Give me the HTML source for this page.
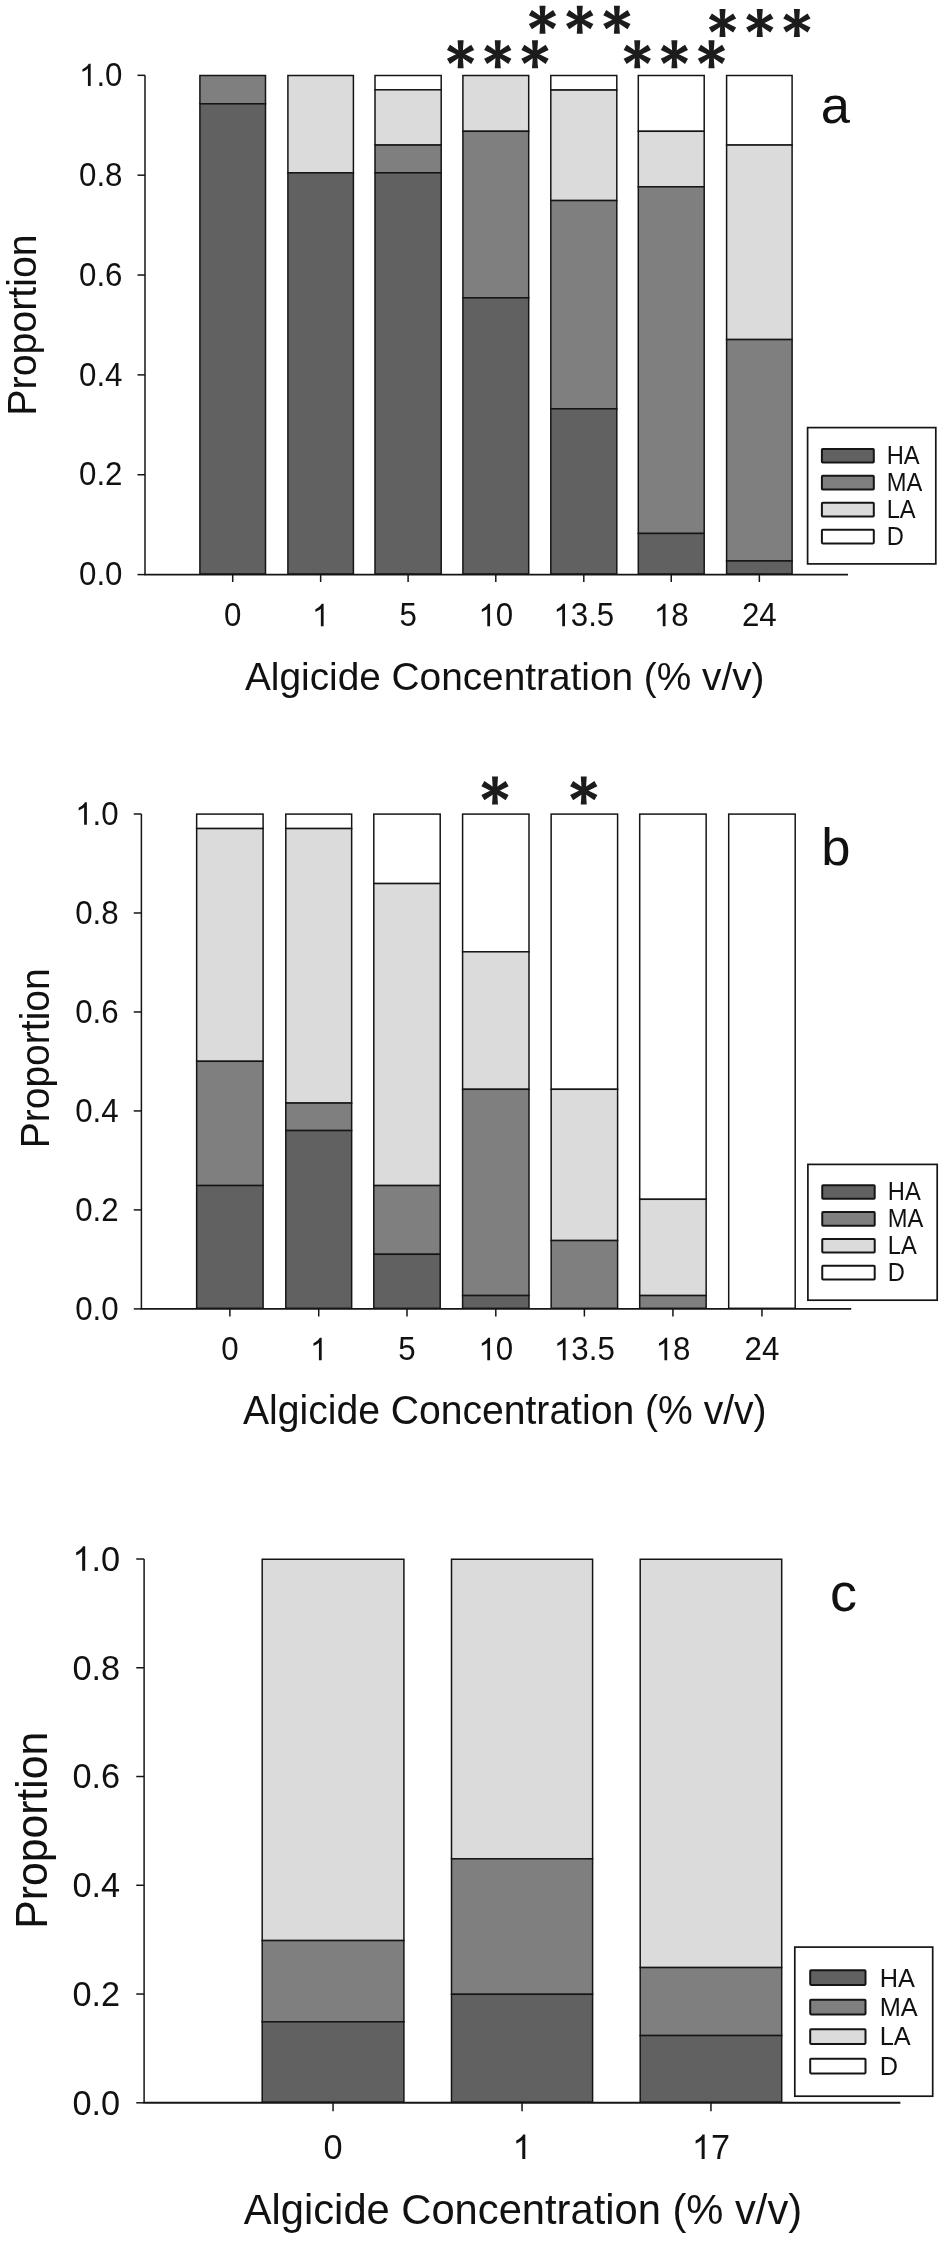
<!DOCTYPE html>
<html><head><meta charset="utf-8"><style>
html,body{margin:0;padding:0;background:#fff;}
svg{display:block;filter:grayscale(1);}
text{font-family:"Liberation Sans",sans-serif;font-kerning:none;}
</style></head><body>
<svg width="944" height="2244" viewBox="0 0 944 2244">
<defs><g id="ast" fill="#1c1c1c"><polygon points="-2.05,0 -3.0,-14.0 3.0,-14.0 2.05,0" transform="rotate(0)"/><polygon points="-2.05,0 -3.0,-14.0 3.0,-14.0 2.05,0" transform="rotate(60)"/><polygon points="-2.05,0 -3.0,-14.0 3.0,-14.0 2.05,0" transform="rotate(120)"/><polygon points="-2.05,0 -3.0,-14.0 3.0,-14.0 2.05,0" transform="rotate(180)"/><polygon points="-2.05,0 -3.0,-14.0 3.0,-14.0 2.05,0" transform="rotate(240)"/><polygon points="-2.05,0 -3.0,-14.0 3.0,-14.0 2.05,0" transform="rotate(300)"/><circle r="3.2"/></g></defs>
<rect width="944" height="2244" fill="#fff"/>
<g fill="#111">
<rect x="199.90" y="75.50" width="65.60" height="28.30" fill="#7f7f7f" stroke="#151515" stroke-width="1.5" />
<rect x="199.90" y="103.80" width="65.60" height="470.20" fill="#616161" stroke="#151515" stroke-width="1.5" />
<rect x="287.90" y="75.50" width="65.50" height="97.30" fill="#dbdbdb" stroke="#151515" stroke-width="1.5" />
<rect x="287.90" y="172.80" width="65.50" height="401.20" fill="#616161" stroke="#151515" stroke-width="1.5" />
<rect x="375.00" y="75.50" width="66.20" height="14.30" fill="#ffffff" stroke="#151515" stroke-width="1.5" />
<rect x="375.00" y="89.80" width="66.20" height="55.25" fill="#dbdbdb" stroke="#151515" stroke-width="1.5" />
<rect x="375.00" y="145.05" width="66.20" height="27.75" fill="#7f7f7f" stroke="#151515" stroke-width="1.5" />
<rect x="375.00" y="172.80" width="66.20" height="401.20" fill="#616161" stroke="#151515" stroke-width="1.5" />
<rect x="462.90" y="75.50" width="65.80" height="55.80" fill="#dbdbdb" stroke="#151515" stroke-width="1.5" />
<rect x="462.90" y="131.30" width="65.80" height="166.50" fill="#7f7f7f" stroke="#151515" stroke-width="1.5" />
<rect x="462.90" y="297.80" width="65.80" height="276.20" fill="#616161" stroke="#151515" stroke-width="1.5" />
<rect x="550.80" y="75.50" width="66.00" height="14.55" fill="#ffffff" stroke="#151515" stroke-width="1.5" />
<rect x="550.80" y="90.05" width="66.00" height="110.50" fill="#dbdbdb" stroke="#151515" stroke-width="1.5" />
<rect x="550.80" y="200.55" width="66.00" height="208.25" fill="#7f7f7f" stroke="#151515" stroke-width="1.5" />
<rect x="550.80" y="408.80" width="66.00" height="165.20" fill="#616161" stroke="#151515" stroke-width="1.5" />
<rect x="638.30" y="75.50" width="65.90" height="55.80" fill="#ffffff" stroke="#151515" stroke-width="1.5" />
<rect x="638.30" y="131.30" width="65.90" height="55.50" fill="#dbdbdb" stroke="#151515" stroke-width="1.5" />
<rect x="638.30" y="186.80" width="65.90" height="346.65" fill="#7f7f7f" stroke="#151515" stroke-width="1.5" />
<rect x="638.30" y="533.45" width="65.90" height="40.55" fill="#616161" stroke="#151515" stroke-width="1.5" />
<rect x="726.60" y="75.50" width="65.50" height="69.55" fill="#ffffff" stroke="#151515" stroke-width="1.5" />
<rect x="726.60" y="145.05" width="65.50" height="194.50" fill="#dbdbdb" stroke="#151515" stroke-width="1.5" />
<rect x="726.60" y="339.55" width="65.50" height="221.40" fill="#7f7f7f" stroke="#151515" stroke-width="1.5" />
<rect x="726.60" y="560.95" width="65.50" height="13.05" fill="#616161" stroke="#151515" stroke-width="1.5" />
<line x1="145.00" y1="75.33" x2="145.00" y2="574.60" stroke="#151515" stroke-width="1.5"/>
<line x1="144.25" y1="574.60" x2="848.00" y2="574.60" stroke="#151515" stroke-width="1.9"/>
<line x1="137.50" y1="574.60" x2="145.00" y2="574.60" stroke="#151515" stroke-width="1.5"/>
<g transform="translate(79.01,585.34) scale(1.0,1.035)"><text x="0.00" y="0" font-size="31.3">0.0</text></g>
<line x1="137.50" y1="474.75" x2="145.00" y2="474.75" stroke="#151515" stroke-width="1.5"/>
<g transform="translate(79.01,485.49) scale(1.0,1.035)"><text x="0.00" y="0" font-size="31.3">0.2</text></g>
<line x1="137.50" y1="374.89" x2="145.00" y2="374.89" stroke="#151515" stroke-width="1.5"/>
<g transform="translate(79.01,385.64) scale(1.0,1.035)"><text x="0.00" y="0" font-size="31.3">0.4</text></g>
<line x1="137.50" y1="275.04" x2="145.00" y2="275.04" stroke="#151515" stroke-width="1.5"/>
<g transform="translate(79.01,285.78) scale(1.0,1.035)"><text x="0.00" y="0" font-size="31.3">0.6</text></g>
<line x1="137.50" y1="175.18" x2="145.00" y2="175.18" stroke="#151515" stroke-width="1.5"/>
<g transform="translate(79.01,185.93) scale(1.0,1.035)"><text x="0.00" y="0" font-size="31.3">0.8</text></g>
<line x1="137.50" y1="75.33" x2="145.00" y2="75.33" stroke="#151515" stroke-width="1.5"/>
<g transform="translate(79.01,86.07) scale(1.0,1.035)"><path d="M763,0L583,0L583,1147Q518,1085 412.5,1023Q307,961 225,930L225,1104Q373,1174 478.5,1268Q584,1362 640,1466L763,1466Z" transform="translate(0.00,0) scale(0.01528,-0.01477)"/><text x="17.41" y="0" font-size="31.3">.0</text></g>
<line x1="232.70" y1="574.60" x2="232.70" y2="582.00" stroke="#151515" stroke-width="1.5"/>
<g transform="translate(224.00,626.20) scale(1.0,1.035)"><text x="0.00" y="0" font-size="31.3">0</text></g>
<line x1="320.65" y1="574.60" x2="320.65" y2="582.00" stroke="#151515" stroke-width="1.5"/>
<g transform="translate(311.95,626.20) scale(1.0,1.035)"><path d="M763,0L583,0L583,1147Q518,1085 412.5,1023Q307,961 225,930L225,1104Q373,1174 478.5,1268Q584,1362 640,1466L763,1466Z" transform="translate(0.00,0) scale(0.01528,-0.01477)"/></g>
<line x1="408.10" y1="574.60" x2="408.10" y2="582.00" stroke="#151515" stroke-width="1.5"/>
<g transform="translate(399.40,626.20) scale(1.0,1.035)"><text x="0.00" y="0" font-size="31.3">5</text></g>
<line x1="495.80" y1="574.60" x2="495.80" y2="582.00" stroke="#151515" stroke-width="1.5"/>
<g transform="translate(478.39,626.20) scale(1.0,1.035)"><path d="M763,0L583,0L583,1147Q518,1085 412.5,1023Q307,961 225,930L225,1104Q373,1174 478.5,1268Q584,1362 640,1466L763,1466Z" transform="translate(0.00,0) scale(0.01528,-0.01477)"/><text x="17.41" y="0" font-size="31.3">0</text></g>
<line x1="583.80" y1="574.60" x2="583.80" y2="582.00" stroke="#151515" stroke-width="1.5"/>
<g transform="translate(553.34,626.20) scale(1.0,1.035)"><path d="M763,0L583,0L583,1147Q518,1085 412.5,1023Q307,961 225,930L225,1104Q373,1174 478.5,1268Q584,1362 640,1466L763,1466Z" transform="translate(0.00,0) scale(0.01528,-0.01477)"/><text x="17.41" y="0" font-size="31.3">3.5</text></g>
<line x1="671.25" y1="574.60" x2="671.25" y2="582.00" stroke="#151515" stroke-width="1.5"/>
<g transform="translate(653.84,626.20) scale(1.0,1.035)"><path d="M763,0L583,0L583,1147Q518,1085 412.5,1023Q307,961 225,930L225,1104Q373,1174 478.5,1268Q584,1362 640,1466L763,1466Z" transform="translate(0.00,0) scale(0.01528,-0.01477)"/><text x="17.41" y="0" font-size="31.3">8</text></g>
<line x1="759.35" y1="574.60" x2="759.35" y2="582.00" stroke="#151515" stroke-width="1.5"/>
<g transform="translate(741.94,626.20) scale(1.0,1.035)"><text x="0.00" y="0" font-size="31.3">24</text></g>
<g transform="translate(245.00,690.00) scale(1.0,1.02)"><text x="0.00" y="0" font-size="38.8">Algicide Concentration (% v/v)</text></g>
<g transform="translate(36.25,325.00) rotate(-90) scale(1,1.025)"><text x="0" y="0" font-size="39.3" text-anchor="middle">Proportion</text></g>
<rect x="807.60" y="427.60" width="128.20" height="136.30" fill="#fff" stroke="#151515" stroke-width="1.7" />
<rect x="821.90" y="448.90" width="51.90" height="13.60" fill="#616161" stroke="#151515" stroke-width="2.0" rx="0.8"/>
<g transform="translate(886.66,464.10) scale(1.0,1.06)"><text x="0.00" y="0" font-size="23.7">HA</text></g>
<rect x="821.90" y="475.87" width="51.90" height="13.60" fill="#7f7f7f" stroke="#151515" stroke-width="2.0" rx="0.8"/>
<g transform="translate(886.66,491.00) scale(1.0,1.06)"><text x="0.00" y="0" font-size="23.7">MA</text></g>
<rect x="821.90" y="502.84" width="51.90" height="13.60" fill="#dbdbdb" stroke="#151515" stroke-width="2.0" rx="0.8"/>
<g transform="translate(886.66,517.90) scale(1.0,1.06)"><text x="0.00" y="0" font-size="23.7">LA</text></g>
<rect x="821.90" y="529.81" width="51.90" height="13.60" fill="#ffffff" stroke="#151515" stroke-width="2.0" rx="0.8"/>
<g transform="translate(886.66,544.80) scale(1.0,1.06)"><text x="0.00" y="0" font-size="23.7">D</text></g>
<g transform="translate(820.77,123.10) scale(1.0,1.0)"><text x="0.00" y="0" font-size="52.5">a</text></g>
<rect x="196.65" y="814.10" width="66.45" height="14.45" fill="#ffffff" stroke="#151515" stroke-width="1.5" />
<rect x="196.65" y="828.55" width="66.45" height="232.75" fill="#dbdbdb" stroke="#151515" stroke-width="1.5" />
<rect x="196.65" y="1061.30" width="66.45" height="124.25" fill="#7f7f7f" stroke="#151515" stroke-width="1.5" />
<rect x="196.65" y="1185.55" width="66.45" height="122.75" fill="#616161" stroke="#151515" stroke-width="1.5" />
<rect x="285.80" y="814.10" width="65.85" height="14.45" fill="#ffffff" stroke="#151515" stroke-width="1.5" />
<rect x="285.80" y="828.55" width="65.85" height="274.50" fill="#dbdbdb" stroke="#151515" stroke-width="1.5" />
<rect x="285.80" y="1103.05" width="65.85" height="27.50" fill="#7f7f7f" stroke="#151515" stroke-width="1.5" />
<rect x="285.80" y="1130.55" width="65.85" height="177.75" fill="#616161" stroke="#151515" stroke-width="1.5" />
<rect x="373.80" y="814.10" width="66.40" height="69.45" fill="#ffffff" stroke="#151515" stroke-width="1.5" />
<rect x="373.80" y="883.55" width="66.40" height="302.00" fill="#dbdbdb" stroke="#151515" stroke-width="1.5" />
<rect x="373.80" y="1185.55" width="66.40" height="68.75" fill="#7f7f7f" stroke="#151515" stroke-width="1.5" />
<rect x="373.80" y="1254.30" width="66.40" height="54.00" fill="#616161" stroke="#151515" stroke-width="1.5" />
<rect x="462.60" y="814.10" width="66.40" height="137.70" fill="#ffffff" stroke="#151515" stroke-width="1.5" />
<rect x="462.60" y="951.80" width="66.40" height="137.50" fill="#dbdbdb" stroke="#151515" stroke-width="1.5" />
<rect x="462.60" y="1089.30" width="66.40" height="206.25" fill="#7f7f7f" stroke="#151515" stroke-width="1.5" />
<rect x="462.60" y="1295.55" width="66.40" height="12.75" fill="#616161" stroke="#151515" stroke-width="1.5" />
<rect x="551.15" y="814.10" width="66.45" height="275.20" fill="#ffffff" stroke="#151515" stroke-width="1.5" />
<rect x="551.15" y="1089.30" width="66.45" height="151.25" fill="#dbdbdb" stroke="#151515" stroke-width="1.5" />
<rect x="551.15" y="1240.55" width="66.45" height="67.75" fill="#7f7f7f" stroke="#151515" stroke-width="1.5" />
<rect x="639.70" y="814.10" width="66.45" height="385.20" fill="#ffffff" stroke="#151515" stroke-width="1.5" />
<rect x="639.70" y="1199.30" width="66.45" height="96.25" fill="#dbdbdb" stroke="#151515" stroke-width="1.5" />
<rect x="639.70" y="1295.55" width="66.45" height="12.75" fill="#7f7f7f" stroke="#151515" stroke-width="1.5" />
<rect x="728.70" y="814.10" width="66.50" height="494.20" fill="#ffffff" stroke="#151515" stroke-width="1.5" />
<line x1="141.40" y1="814.00" x2="141.40" y2="1308.90" stroke="#151515" stroke-width="1.5"/>
<line x1="140.65" y1="1308.90" x2="851.25" y2="1308.90" stroke="#151515" stroke-width="1.9"/>
<line x1="133.75" y1="1308.90" x2="141.40" y2="1308.90" stroke="#151515" stroke-width="1.5"/>
<g transform="translate(75.21,1319.64) scale(1.0,1.035)"><text x="0.00" y="0" font-size="31.3">0.0</text></g>
<line x1="133.75" y1="1209.92" x2="141.40" y2="1209.92" stroke="#151515" stroke-width="1.5"/>
<g transform="translate(75.21,1220.66) scale(1.0,1.035)"><text x="0.00" y="0" font-size="31.3">0.2</text></g>
<line x1="133.75" y1="1110.94" x2="141.40" y2="1110.94" stroke="#151515" stroke-width="1.5"/>
<g transform="translate(75.21,1121.68) scale(1.0,1.035)"><text x="0.00" y="0" font-size="31.3">0.4</text></g>
<line x1="133.75" y1="1011.96" x2="141.40" y2="1011.96" stroke="#151515" stroke-width="1.5"/>
<g transform="translate(75.21,1022.70) scale(1.0,1.035)"><text x="0.00" y="0" font-size="31.3">0.6</text></g>
<line x1="133.75" y1="912.98" x2="141.40" y2="912.98" stroke="#151515" stroke-width="1.5"/>
<g transform="translate(75.21,923.72) scale(1.0,1.035)"><text x="0.00" y="0" font-size="31.3">0.8</text></g>
<line x1="133.75" y1="814.00" x2="141.40" y2="814.00" stroke="#151515" stroke-width="1.5"/>
<g transform="translate(75.21,824.74) scale(1.0,1.035)"><path d="M763,0L583,0L583,1147Q518,1085 412.5,1023Q307,961 225,930L225,1104Q373,1174 478.5,1268Q584,1362 640,1466L763,1466Z" transform="translate(0.00,0) scale(0.01528,-0.01477)"/><text x="17.41" y="0" font-size="31.3">.0</text></g>
<line x1="229.88" y1="1308.90" x2="229.88" y2="1316.50" stroke="#151515" stroke-width="1.5"/>
<g transform="translate(221.17,1360.20) scale(1.0,1.035)"><text x="0.00" y="0" font-size="31.3">0</text></g>
<line x1="318.73" y1="1308.90" x2="318.73" y2="1316.50" stroke="#151515" stroke-width="1.5"/>
<g transform="translate(310.02,1360.20) scale(1.0,1.035)"><path d="M763,0L583,0L583,1147Q518,1085 412.5,1023Q307,961 225,930L225,1104Q373,1174 478.5,1268Q584,1362 640,1466L763,1466Z" transform="translate(0.00,0) scale(0.01528,-0.01477)"/></g>
<line x1="407.00" y1="1308.90" x2="407.00" y2="1316.50" stroke="#151515" stroke-width="1.5"/>
<g transform="translate(398.30,1360.20) scale(1.0,1.035)"><text x="0.00" y="0" font-size="31.3">5</text></g>
<line x1="495.80" y1="1308.90" x2="495.80" y2="1316.50" stroke="#151515" stroke-width="1.5"/>
<g transform="translate(478.39,1360.20) scale(1.0,1.035)"><path d="M763,0L583,0L583,1147Q518,1085 412.5,1023Q307,961 225,930L225,1104Q373,1174 478.5,1268Q584,1362 640,1466L763,1466Z" transform="translate(0.00,0) scale(0.01528,-0.01477)"/><text x="17.41" y="0" font-size="31.3">0</text></g>
<line x1="584.38" y1="1308.90" x2="584.38" y2="1316.50" stroke="#151515" stroke-width="1.5"/>
<g transform="translate(553.92,1360.20) scale(1.0,1.035)"><path d="M763,0L583,0L583,1147Q518,1085 412.5,1023Q307,961 225,930L225,1104Q373,1174 478.5,1268Q584,1362 640,1466L763,1466Z" transform="translate(0.00,0) scale(0.01528,-0.01477)"/><text x="17.41" y="0" font-size="31.3">3.5</text></g>
<line x1="672.93" y1="1308.90" x2="672.93" y2="1316.50" stroke="#151515" stroke-width="1.5"/>
<g transform="translate(655.52,1360.20) scale(1.0,1.035)"><path d="M763,0L583,0L583,1147Q518,1085 412.5,1023Q307,961 225,930L225,1104Q373,1174 478.5,1268Q584,1362 640,1466L763,1466Z" transform="translate(0.00,0) scale(0.01528,-0.01477)"/><text x="17.41" y="0" font-size="31.3">8</text></g>
<line x1="761.95" y1="1308.90" x2="761.95" y2="1316.50" stroke="#151515" stroke-width="1.5"/>
<g transform="translate(744.54,1360.20) scale(1.0,1.035)"><text x="0.00" y="0" font-size="31.3">24</text></g>
<g transform="translate(243.00,1423.80) scale(1.0,1.02)"><text x="0.00" y="0" font-size="39.1">Algicide Concentration (% v/v)</text></g>
<g transform="translate(48.75,1058.30) rotate(-90) scale(1,1.025)"><text x="0" y="0" font-size="39.0" text-anchor="middle">Proportion</text></g>
<rect x="807.90" y="1164.40" width="129.30" height="135.80" fill="#fff" stroke="#151515" stroke-width="1.7" />
<rect x="822.25" y="1185.20" width="52.45" height="13.60" fill="#616161" stroke="#151515" stroke-width="2.0" rx="0.8"/>
<g transform="translate(887.86,1200.10) scale(1.0,1.06)"><text x="0.00" y="0" font-size="23.7">HA</text></g>
<rect x="822.25" y="1212.08" width="52.45" height="13.60" fill="#7f7f7f" stroke="#151515" stroke-width="2.0" rx="0.8"/>
<g transform="translate(887.86,1226.90) scale(1.0,1.06)"><text x="0.00" y="0" font-size="23.7">MA</text></g>
<rect x="822.25" y="1238.96" width="52.45" height="13.60" fill="#dbdbdb" stroke="#151515" stroke-width="2.0" rx="0.8"/>
<g transform="translate(887.86,1253.70) scale(1.0,1.06)"><text x="0.00" y="0" font-size="23.7">LA</text></g>
<rect x="822.25" y="1265.84" width="52.45" height="13.60" fill="#ffffff" stroke="#151515" stroke-width="2.0" rx="0.8"/>
<g transform="translate(887.86,1280.50) scale(1.0,1.06)"><text x="0.00" y="0" font-size="23.7">D</text></g>
<g transform="translate(821.22,865.00) scale(1.0,1.0)"><text x="0.00" y="0" font-size="52.5">b</text></g>
<rect x="262.20" y="1559.25" width="141.70" height="381.30" fill="#dbdbdb" stroke="#151515" stroke-width="1.5" />
<rect x="262.20" y="1940.55" width="141.70" height="81.25" fill="#7f7f7f" stroke="#151515" stroke-width="1.5" />
<rect x="262.20" y="2021.80" width="141.70" height="80.40" fill="#616161" stroke="#151515" stroke-width="1.5" />
<rect x="451.50" y="1559.25" width="141.10" height="299.55" fill="#dbdbdb" stroke="#151515" stroke-width="1.5" />
<rect x="451.50" y="1858.80" width="141.10" height="135.50" fill="#7f7f7f" stroke="#151515" stroke-width="1.5" />
<rect x="451.50" y="1994.30" width="141.10" height="107.90" fill="#616161" stroke="#151515" stroke-width="1.5" />
<rect x="640.20" y="1559.25" width="141.50" height="408.30" fill="#dbdbdb" stroke="#151515" stroke-width="1.5" />
<rect x="640.20" y="1967.55" width="141.50" height="68.00" fill="#7f7f7f" stroke="#151515" stroke-width="1.5" />
<rect x="640.20" y="2035.55" width="141.50" height="66.65" fill="#616161" stroke="#151515" stroke-width="1.5" />
<line x1="144.10" y1="1559.00" x2="144.10" y2="2102.80" stroke="#151515" stroke-width="1.5"/>
<line x1="143.35" y1="2102.80" x2="900.40" y2="2102.80" stroke="#151515" stroke-width="1.9"/>
<line x1="136.25" y1="2102.80" x2="144.10" y2="2102.80" stroke="#151515" stroke-width="1.5"/>
<g transform="translate(72.41,2114.61) scale(1.0,1.035)"><text x="0.00" y="0" font-size="34.3">0.0</text></g>
<line x1="136.25" y1="1994.04" x2="144.10" y2="1994.04" stroke="#151515" stroke-width="1.5"/>
<g transform="translate(72.41,2005.85) scale(1.0,1.035)"><text x="0.00" y="0" font-size="34.3">0.2</text></g>
<line x1="136.25" y1="1885.28" x2="144.10" y2="1885.28" stroke="#151515" stroke-width="1.5"/>
<g transform="translate(72.41,1897.09) scale(1.0,1.035)"><text x="0.00" y="0" font-size="34.3">0.4</text></g>
<line x1="136.25" y1="1776.52" x2="144.10" y2="1776.52" stroke="#151515" stroke-width="1.5"/>
<g transform="translate(72.41,1788.33) scale(1.0,1.035)"><text x="0.00" y="0" font-size="34.3">0.6</text></g>
<line x1="136.25" y1="1667.76" x2="144.10" y2="1667.76" stroke="#151515" stroke-width="1.5"/>
<g transform="translate(72.41,1679.57) scale(1.0,1.035)"><text x="0.00" y="0" font-size="34.3">0.8</text></g>
<line x1="136.25" y1="1559.00" x2="144.10" y2="1559.00" stroke="#151515" stroke-width="1.5"/>
<g transform="translate(72.41,1570.81) scale(1.0,1.035)"><path d="M763,0L583,0L583,1147Q518,1085 412.5,1023Q307,961 225,930L225,1104Q373,1174 478.5,1268Q584,1362 640,1466L763,1466Z" transform="translate(0.00,0) scale(0.01675,-0.01618)"/><text x="19.08" y="0" font-size="34.3">.0</text></g>
<line x1="333.05" y1="2102.80" x2="333.05" y2="2111.25" stroke="#151515" stroke-width="1.5"/>
<g transform="translate(323.51,2159.10) scale(1.0,1.035)"><text x="0.00" y="0" font-size="34.3">0</text></g>
<line x1="522.05" y1="2102.80" x2="522.05" y2="2111.25" stroke="#151515" stroke-width="1.5"/>
<g transform="translate(512.51,2159.10) scale(1.0,1.035)"><path d="M763,0L583,0L583,1147Q518,1085 412.5,1023Q307,961 225,930L225,1104Q373,1174 478.5,1268Q584,1362 640,1466L763,1466Z" transform="translate(0.00,0) scale(0.01675,-0.01618)"/></g>
<line x1="710.95" y1="2102.80" x2="710.95" y2="2111.25" stroke="#151515" stroke-width="1.5"/>
<g transform="translate(691.87,2159.10) scale(1.0,1.035)"><path d="M763,0L583,0L583,1147Q518,1085 412.5,1023Q307,961 225,930L225,1104Q373,1174 478.5,1268Q584,1362 640,1466L763,1466Z" transform="translate(0.00,0) scale(0.01675,-0.01618)"/><text x="19.08" y="0" font-size="34.3">7</text></g>
<g transform="translate(243.75,2224.25) scale(1.0,1.02)"><text x="0.00" y="0" font-size="41.7">Algicide Concentration (% v/v)</text></g>
<g transform="translate(46.90,1830.30) rotate(-90) scale(1,1.025)"><text x="0" y="0" font-size="42.7" text-anchor="middle">Proportion</text></g>
<rect x="794.80" y="1947.10" width="137.90" height="149.10" fill="#fff" stroke="#151515" stroke-width="1.7" />
<rect x="810.20" y="1970.20" width="55.30" height="14.70" fill="#616161" stroke="#151515" stroke-width="2.0" rx="0.8"/>
<g transform="translate(879.72,1986.50) scale(1.0,1.04)"><text x="0.00" y="0" font-size="25.3">HA</text></g>
<rect x="810.20" y="1999.70" width="55.30" height="14.70" fill="#7f7f7f" stroke="#151515" stroke-width="2.0" rx="0.8"/>
<g transform="translate(879.72,2015.90) scale(1.0,1.04)"><text x="0.00" y="0" font-size="25.3">MA</text></g>
<rect x="810.20" y="2029.20" width="55.30" height="14.70" fill="#dbdbdb" stroke="#151515" stroke-width="2.0" rx="0.8"/>
<g transform="translate(879.72,2045.30) scale(1.0,1.04)"><text x="0.00" y="0" font-size="25.3">LA</text></g>
<rect x="810.20" y="2058.70" width="55.30" height="14.70" fill="#ffffff" stroke="#151515" stroke-width="2.0" rx="0.8"/>
<g transform="translate(879.72,2074.70) scale(1.0,1.04)"><text x="0.00" y="0" font-size="25.3">D</text></g>
<g transform="translate(829.96,1610.70) scale(1.0,1.0)"><text x="0.00" y="0" font-size="54">c</text></g>
<use href="#ast" x="460.60" y="54.30"/>
<use href="#ast" x="497.75" y="54.30"/>
<use href="#ast" x="535.00" y="54.30"/>
<use href="#ast" x="542.50" y="19.70"/>
<use href="#ast" x="579.75" y="19.70"/>
<use href="#ast" x="616.90" y="19.70"/>
<use href="#ast" x="637.25" y="54.30"/>
<use href="#ast" x="674.40" y="54.30"/>
<use href="#ast" x="711.50" y="54.30"/>
<use href="#ast" x="722.50" y="23.00"/>
<use href="#ast" x="759.75" y="23.00"/>
<use href="#ast" x="796.90" y="23.00"/>
<use href="#ast" x="495.00" y="790.60"/>
<use href="#ast" x="583.75" y="790.60"/>
</g>
</svg>
</body></html>
